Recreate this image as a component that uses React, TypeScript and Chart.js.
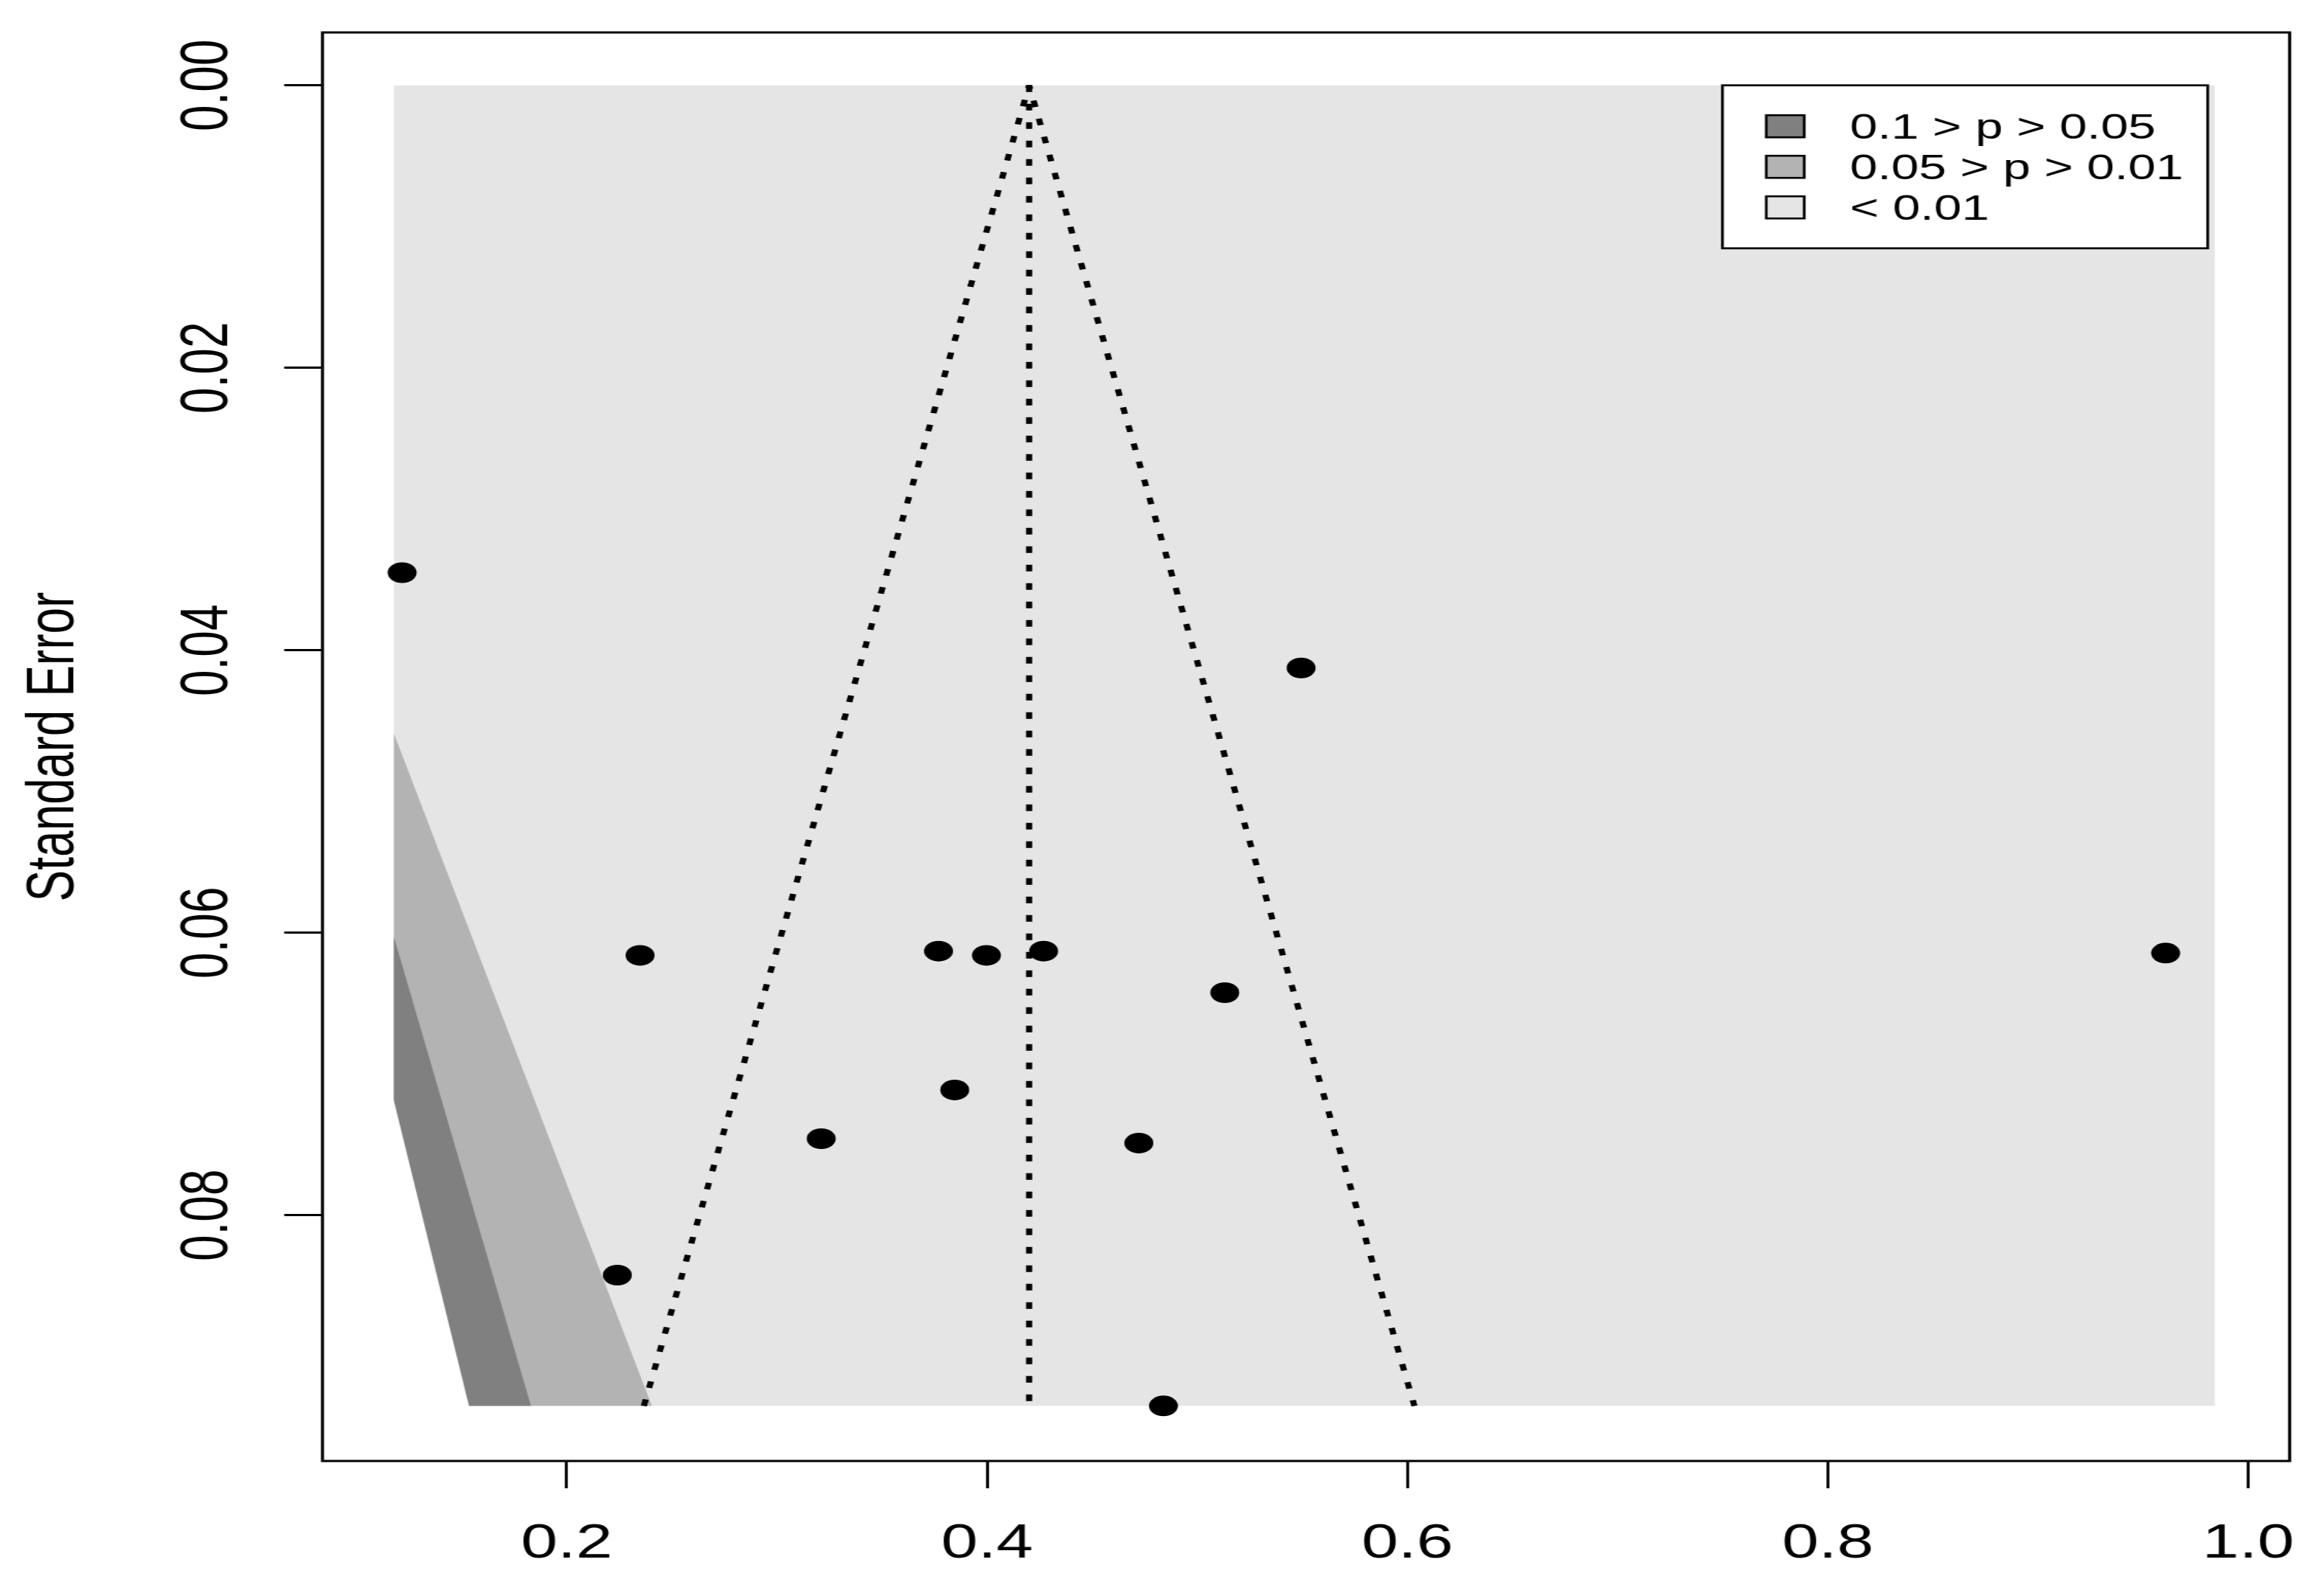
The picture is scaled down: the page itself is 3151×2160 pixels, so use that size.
import React, { useEffect, useRef } from 'react';
import { Chart, registerables } from 'chart.js';

Chart.register(...registerables);

// ---- data (effect size vs. standard error) ----
const studyEffect = [0.1217, 0.5494, 0.2349, 0.3769, 0.3997, 0.4269, 0.9607, 0.5131, 0.3846, 0.3211, 0.4722, 0.2241, 0.4839];
const studySE = [0.0345, 0.04125, 0.0616, 0.0613, 0.0616, 0.0613, 0.06144, 0.06424, 0.07113, 0.07458, 0.07489, 0.08424, 0.0935];

// funnel (pooled estimate 0.42, 95% limits)
const funnelEdgeX = [0.2367, 0.42, 0.6033];
const funnelEdgeSE = [0.0935, 0, 0.0935];
const centerLineX = [0.42, 0.42];
const centerLineSE = [0, 0.0935];

// contour-enhanced shading regions
const shadeRectX = [0.1178, 0.9841, 0.9841, 0.1178];
const shadeRectSE = [0, 0, 0.0935, 0.0935];
const band05X = [0.1178, 0.2405, 0.1178];
const band05SE = [0.0459, 0.0935, 0.0935];
const band10X = [0.1178, 0.183, 0.1178];
const band10SE = [0.0603, 0.0935, 0.0935];
const nonSigX = [0.1165, 0.1178, 0.1535, 0.1535, 0.1165];
const nonSigSE = [0.0719, 0.0719, 0.0935, 0.0938, 0.0938];

const xTickValues = [0.2, 0.4, 0.6, 0.8, 1.0];
const xTickLabels = ['0.2', '0.4', '0.6', '0.8', '1.0'];
const yTickValues = [0, 0.02, 0.04, 0.06, 0.08];
const yTickLabels = ['0.00', '0.02', '0.04', '0.06', '0.08'];
const xRange = [0.0838, 1.0197];
const yRange = [-0.00375, 0.0974];

const legendLabels = ['0.1 > p > 0.05', '0.05 > p > 0.01', '< 0.01'];
const legendColors = ['#808080', '#b3b3b3', '#e5e5e5'];
const yAxisTitle = 'Standard Error';

// ---- rendering geometry (canvas is drawn narrow, then stretched horizontally) ----
const OUT_W = 3151;
const OUT_H = 2160;
const STRETCH = 1.4;
const CANVAS_W = Math.round(OUT_W / STRETCH);
const FONT = '"Liberation Sans", Arial, Helvetica, sans-serif';

const toPoints = (xs: number[], ys: number[]) => xs.map((x, i) => ({ x, y: ys[i] }));

const polygon = (label: string, xs: number[], ys: number[], color: string, order: number) => ({
  label,
  data: toPoints(xs, ys),
  showLine: true,
  fill: 'shape',
  backgroundColor: color,
  borderColor: 'rgba(0,0,0,0)',
  borderWidth: 0,
  pointRadius: 0,
  pointHoverRadius: 0,
  order,
});

const framePlugin = {
  id: 'plotFrame',
  afterDatasetsDraw(chart: any) {
    const { ctx, chartArea: a } = chart;
    ctx.save();
    ctx.strokeStyle = '#000';
    ctx.lineWidth = 3;
    ctx.strokeRect(a.left, a.top, a.right - a.left, a.bottom - a.top);
    ctx.restore();
  },
};

const legendPlugin = {
  id: 'contourLegend',
  afterDraw(chart: any) {
    const { ctx, chartArea: a } = chart;
    const boxW = 470;
    const boxH = 221;
    const right = a.right - 79.4;
    const left = right - boxW;
    const top = a.top + 71.7;
    ctx.save();
    ctx.fillStyle = '#fff';
    ctx.fillRect(left, top, boxW, boxH);
    ctx.strokeStyle = '#000';
    ctx.lineWidth = 2.7;
    ctx.strokeRect(left, top, boxW, boxH);
    ctx.font = `48px ${FONT}`;
    ctx.textBaseline = 'middle';
    ctx.textAlign = 'left';
    legendLabels.forEach((lab, i) => {
      const cy = top + 55.5 + i * 55;
      const sx = left + 42.5;
      ctx.fillStyle = legendColors[i];
      ctx.fillRect(sx, cy - 15, 36.7, 30);
      ctx.lineWidth = 2.6;
      ctx.strokeStyle = '#000';
      ctx.strokeRect(sx, cy - 15, 36.7, 30);
      ctx.fillStyle = '#000';
      ctx.fillText(lab, left + 123.5, cy + 4);
    });
    ctx.restore();
  },
};

export default function App() {
  const ref = useRef<HTMLCanvasElement | null>(null);

  useEffect(() => {
    if (!ref.current) return;
    const chart = new Chart(ref.current, {
      type: 'scatter',
      data: {
        datasets: [
          polygon('< 0.01', shadeRectX, shadeRectSE, legendColors[2], 6),
          polygon('0.05 > p > 0.01', band05X, band05SE, legendColors[1], 5),
          polygon('0.1 > p > 0.05', band10X, band10SE, legendColors[0], 4),
          polygon('p > 0.1', nonSigX, nonSigSE, '#ffffff', 3),
          {
            label: 'funnel',
            data: toPoints(funnelEdgeX, funnelEdgeSE),
            showLine: true,
            fill: false,
            borderColor: '#000',
            borderWidth: 6,
            borderDash: [9, 16],
            borderJoinStyle: 'bevel',
            pointRadius: 0,
            order: 2,
          },
          {
            label: 'estimate',
            data: toPoints(centerLineX, centerLineSE),
            showLine: true,
            fill: false,
            borderColor: '#000',
            borderWidth: 6,
            borderDash: [9, 16],
            pointRadius: 0,
            order: 1,
          },
          {
            label: 'studies',
            data: toPoints(studyEffect, studySE),
            showLine: false,
            pointRadius: 14,
            pointHoverRadius: 14,
            pointBackgroundColor: '#000',
            pointBorderWidth: 0,
            backgroundColor: '#000',
            borderColor: '#000',
            order: 0,
          },
        ] as any,
      },
      options: {
        animation: false,
        responsive: false,
        maintainAspectRatio: false,
        devicePixelRatio: 1,
        events: [],
        layout: { padding: { left: 0, top: 44, right: CANVAS_W - 2217.7, bottom: 0 } },
        plugins: {
          legend: { display: false },
          tooltip: { enabled: false },
          title: { display: false },
        },
        scales: {
          x: {
            type: 'linear',
            position: 'bottom',
            min: xRange[0],
            max: xRange[1],
            afterBuildTicks: (s: any) => {
              s.ticks = xTickValues.map((v) => ({ value: v }));
            },
            afterFit: (s: any) => {
              s.height = OUT_H - 1981;
              s.paddingLeft = 0;
              s.paddingRight = 0;
              s.paddingTop = 0;
              s.paddingBottom = 0;
            },
            ticks: {
              autoSkip: false,
              minRotation: 0,
              maxRotation: 0,
              padding: 37.6,
              color: '#000',
              font: { family: FONT, size: 64, lineHeight: 1.2 },
              callback: (v: any) => xTickLabels[xTickValues.indexOf(Number(v))] ?? '',
            },
            grid: {
              drawOnChartArea: false,
              drawTicks: true,
              tickLength: 37,
              tickColor: '#000',
              tickWidth: 2.8,
            },
            border: { display: false },
          },
          y: {
            type: 'linear',
            position: 'left',
            reverse: true,
            min: yRange[0],
            max: yRange[1],
            afterBuildTicks: (s: any) => {
              s.ticks = yTickValues.map((v) => ({ value: v }));
            },
            afterFit: (s: any) => {
              s.width = 312.3;
              s.paddingTop = 0;
              s.paddingBottom = 0;
              s.paddingLeft = 0;
              s.paddingRight = 0;
            },
            ticks: {
              autoSkip: false,
              minRotation: 90,
              maxRotation: 90,
              crossAlign: 'center',
              padding: 11,
              color: '#000',
              font: { family: FONT, size: 64, lineHeight: 1.2 },
              callback: (v: any) => yTickLabels[yTickValues.indexOf(Number(v))] ?? '',
            },
            grid: {
              drawOnChartArea: false,
              drawTicks: true,
              tickLength: 37,
              tickColor: '#000',
              tickWidth: 2.8,
            },
            border: { display: false },
            title: {
              display: true,
              text: yAxisTitle,
              color: '#000',
              font: { family: FONT, size: 64, lineHeight: 1.2 },
              padding: { top: 15, bottom: 0 },
            },
          },
        },
      } as any,
      plugins: [framePlugin, legendPlugin],
    });
    return () => chart.destroy();
  }, []);

  return (
    <div style={{ position: 'fixed', left: 0, top: 0, width: OUT_W, height: OUT_H, background: '#fff', overflow: 'hidden' }}>
      <canvas
        ref={ref}
        width={CANVAS_W}
        height={OUT_H}
        style={{ display: 'block', width: `${OUT_W}px`, height: `${OUT_H}px` }}
      />
    </div>
  );
}
